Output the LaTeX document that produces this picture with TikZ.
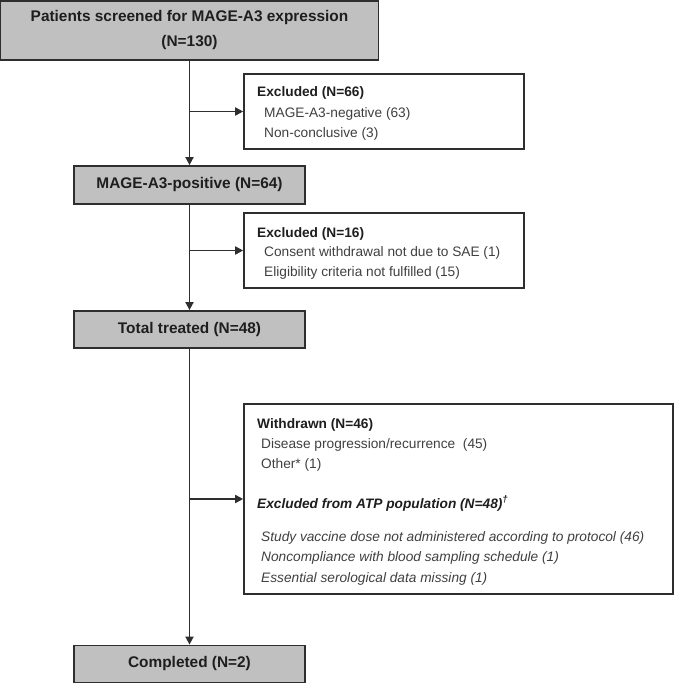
\documentclass[tikz,border=0pt]{standalone}
\usepackage{fontspec}
\setmainfont{Liberation Sans}
\usetikzlibrary{arrows.meta}
\definecolor{boxgray}{HTML}{C0C0C0}
\definecolor{edge}{HTML}{2E2E2E}
\definecolor{ink}{HTML}{1E1E1E}
\begin{document}
\begin{tikzpicture}[x=1pt,y=-1pt,
  graybox/.style={draw=edge, line width=1.8pt, fill=boxgray, inner sep=0pt, font=\fontsize{15.4}{25}\selectfont\bfseries, text=ink, align=center},
  whitebox/.style={draw=edge, line width=1.6pt, fill=white, inner sep=0pt},
  head/.style={anchor=base west, inner sep=0pt, font=\fontsize{13.7}{16}\selectfont\bfseries, text=ink},
  item/.style={anchor=base west, inner sep=0pt, font=\fontsize{13.7}{16}\selectfont, text=ink!85},
  itemit/.style={anchor=base west, inner sep=0pt, font=\fontsize{13.7}{16}\selectfont\itshape, text=ink!85},
  headit/.style={anchor=base west, inner sep=0pt, font=\fontsize{13.7}{16}\selectfont\bfseries\itshape, text=ink},
  arr/.style={draw=edge, line width=1.7pt, -{Triangle[length=8pt,width=8pt]}}
]
\useasboundingbox (0,0) rectangle (674,683);

% main column
\node[graybox, minimum width=378pt, minimum height=59pt] (scr) at (189.5,30.5) {Patients screened for MAGE-A3 expression\\(N=130)};
\node[graybox, minimum width=231pt, minimum height=38pt] (pos) at (189.5,185) {MAGE-A3-positive (N=64)};
\node[graybox, minimum width=231pt, minimum height=37pt] (tot) at (189.5,329.5) {Total treated (N=48)};
\node[graybox, minimum width=231pt, minimum height=37pt] (cmp) at (189.5,664) {Completed (N=2)};

% side boxes
\node[whitebox, minimum width=280pt, minimum height=75pt] (ex1) at (384,111.5) {};
\node[whitebox, minimum width=280pt, minimum height=75pt] (ex2) at (384,250.5) {};
\node[whitebox, minimum width=429pt, minimum height=190pt] (wd) at (458.5,499) {};

% texts of box 1
\node[head] (ex1h) at (257,96) {Excluded (N=66)};
\node[item] (ex1a) at (264,117) {MAGE-A3-negative (63)};
\node[item] (ex1b) at (264,137) {Non-conclusive (3)};

% texts of box 2
\node[head] (ex2h) at (257,237) {Excluded (N=16)};
\node[item] (ex2a) at (264,256) {Consent withdrawal not due to SAE (1)};
\node[item] (ex2b) at (264,276) {Eligibility criteria not fulfilled (15)};

% texts of box 3
\node[head] (wdh) at (257,428) {Withdrawn (N=46)};
\node[item] (wda) at (261,448) {Disease progression/recurrence\ \ (45)};
\node[item] (wdb) at (261,468) {Other* (1)};
\node[headit] (atph) at (257,508) {Excluded from ATP population (N=48)\textsuperscript{†}};
\node[itemit] (atpa) at (261,541) {Study vaccine dose not administered according to protocol (46)};
\node[itemit] (atpb) at (261,561) {Noncompliance with blood sampling schedule (1)};
\node[itemit] (atpc) at (261,582) {Essential serological data missing (1)};

% connectors
\draw[arr] (scr) -- (pos);
\draw[arr] (pos) -- (tot);
\draw[arr] (tot) -- (cmp);
\coordinate (j1) at (ex1.west -| scr.south);
\coordinate (j2) at (ex2.west -| pos.south);
\coordinate (j3) at (wd.west -| tot.south);
\draw[arr] (j1) -- (ex1.west);
\draw[arr] (j2) -- (ex2.west);
\draw[arr] (j3) -- (wd.west);
\end{tikzpicture}
\end{document}
